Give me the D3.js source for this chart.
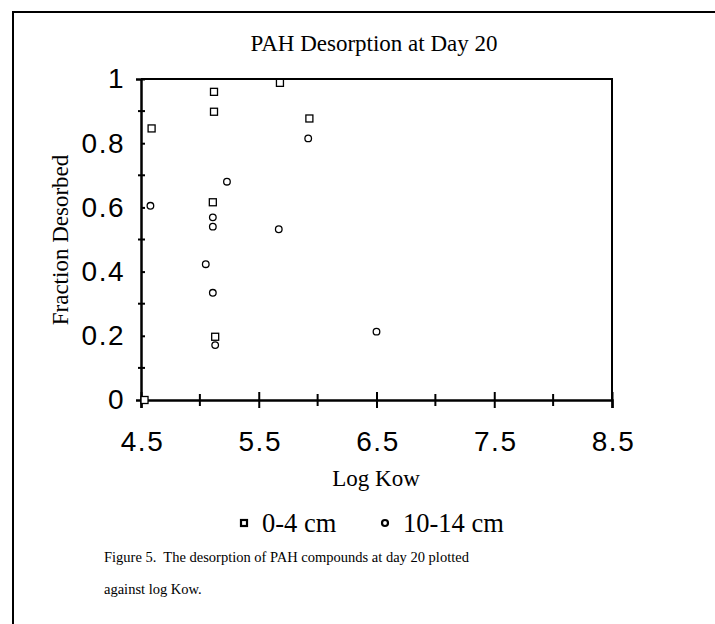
<!DOCTYPE html>
<html>
<head>
<meta charset="utf-8">
<script src="https://cdn.jsdelivr.net/npm/d3@7"></script>
<style>
  body { margin: 0; background: #fff; }
  svg text { fill: #000; }
</style>
</head>
<body>
<svg id="chart" width="715" height="624"></svg>
<script>
// 0-4 cm series
const shallowX = [4.53, 4.59, 5.12, 5.12, 5.11, 5.13, 5.68, 5.93];
const shallowY = [0.0, 0.846, 0.960, 0.898, 0.616, 0.197, 0.988, 0.877];
// 10-14 cm series
const deepX = [4.58, 5.05, 5.11, 5.11, 5.11, 5.13, 5.23, 5.67, 5.92, 6.5];
const deepY = [0.605, 0.423, 0.569, 0.540, 0.334, 0.171, 0.680, 0.532, 0.815, 0.213];

const xTicks = [4.5, 5.5, 6.5, 7.5, 8.5];
const xMinor = [5, 6, 7, 8];
const yTicks = [0, 0.2, 0.4, 0.6, 0.8, 1];
const yMinor = [0.1, 0.3, 0.5, 0.7, 0.9];
const legendLabels = ["0-4 cm", "10-14 cm"];

const svg = d3.select("#chart");
const plotL = 141, plotR = 612, plotT = 79, plotB = 400;
const serif = "Liberation Serif, Times New Roman, serif";
const sans = "Liberation Sans, Arial, sans-serif";

const x = d3.scaleLinear().domain([4.5, 8.5]).range([plotL, plotR]);
const y = d3.scaleLinear().domain([0, 1]).range([plotB, plotT]);

// outer frame (page border)
svg.append("path")
    .attr("d", "M13,624 L13,12 L715,12")
    .attr("fill", "none").attr("stroke", "#000").attr("stroke-width", 2);

// title
svg.append("text").attr("x", 374).attr("y", 51)
    .attr("text-anchor", "middle")
    .style("font-family", serif)
    .style("font-size", "23px")
    .text("PAH Desorption at Day 20");

// plot box (top/right)
svg.append("path")
    .attr("d", `M${plotL},${plotT} L${plotR},${plotT} L${plotR},${plotB}`)
    .attr("fill", "none").attr("stroke", "#000").attr("stroke-width", 2);

// x axis
const xAxis = svg.append("g").attr("transform", `translate(0,${plotB})`);
xAxis.call(d3.axisBottom(x).tickValues(xTicks).tickSize(8).tickFormat(d3.format(".1f")));
xAxis.select(".domain").attr("stroke-width", 2.5);
xAxis.selectAll(".tick line").attr("y1", -8).attr("stroke-width", 2);
xAxis.selectAll("text")
    .attr("y", 51).attr("dy", 0).attr("dx", 1)
    .style("font-family", sans)
    .style("font-size", "28px")
    .style("letter-spacing", "1.5px");
xAxis.selectAll(".minor").data(xMinor).enter().append("line")
    .attr("x1", d => x(d)).attr("x2", d => x(d))
    .attr("y1", -6).attr("y2", 6)
    .attr("stroke", "#000").attr("stroke-width", 2);

// y axis
const yAxis = svg.append("g").attr("transform", `translate(${plotL},0)`);
yAxis.call(d3.axisLeft(y).tickValues(yTicks).tickSize(5).tickFormat(d => d === 0 || d === 1 ? d : d3.format(".1f")(d)));
yAxis.select(".domain").attr("stroke-width", 2.5);
yAxis.selectAll(".tick line").attr("x2", 4).attr("stroke-width", 2);
yAxis.selectAll("text")
    .attr("x", -16)
    .style("font-family", sans)
    .style("font-size", "28px")
    .style("letter-spacing", "1.5px");
yAxis.selectAll(".minor").data(yMinor).enter().append("line")
    .attr("x1", -3).attr("x2", 4)
    .attr("y1", d => y(d)).attr("y2", d => y(d))
    .attr("stroke", "#000").attr("stroke-width", 2);

// axis titles
svg.append("text").attr("x", 376).attr("y", 486)
    .attr("text-anchor", "middle")
    .style("font-family", serif)
    .style("font-size", "23px")
    .text("Log Kow");

svg.append("text")
    .attr("transform", "translate(68,240) rotate(-90)")
    .attr("text-anchor", "middle")
    .style("font-family", serif)
    .style("font-size", "23px")
    .text("Fraction Desorbed");

// points
const shallow = shallowX.map((v, i) => ({x: v, y: shallowY[i]}));
const deep = deepX.map((v, i) => ({x: v, y: deepY[i]}));

svg.selectAll("rect.sq")
    .data(shallow)
    .enter().append("rect")
    .attr("class", "sq")
    .attr("x", d => x(d.x) - 3.5)
    .attr("y", d => y(d.y) - 3.5)
    .attr("width", 7).attr("height", 7)
    .attr("fill", "#fff").attr("stroke", "#000").attr("stroke-width", 1.3);

svg.selectAll("circle.ci")
    .data(deep)
    .enter().append("circle")
    .attr("class", "ci")
    .attr("cx", d => x(d.x))
    .attr("cy", d => y(d.y))
    .attr("r", 3.3)
    .attr("fill", "#fff").attr("stroke", "#000").attr("stroke-width", 1.3);

// legend
const lg = svg.append("g").style("font-family", serif).style("font-size", "26.5px");
lg.append("rect").attr("x", 241).attr("y", 520).attr("width", 6).attr("height", 6)
    .attr("fill", "#fff").attr("stroke", "#000").attr("stroke-width", 2.2);
lg.append("text").attr("x", 262).attr("y", 532).text(legendLabels[0]);
lg.append("circle").attr("cx", 385).attr("cy", 523).attr("r", 3)
    .attr("fill", "#fff").attr("stroke", "#000").attr("stroke-width", 2.2);
lg.append("text").attr("x", 403).attr("y", 532).text(legendLabels[1]);

// caption
const cap = svg.append("g").style("font-family", serif).style("font-size", "14.5px");
cap.append("text").attr("x", 104).attr("y", 562).attr("xml:space", "preserve")
    .text("Figure 5.  The desorption of PAH compounds at day 20 plotted");
cap.append("text").attr("x", 104).attr("y", 594).text("against log Kow.");
</script>
</body>
</html>
